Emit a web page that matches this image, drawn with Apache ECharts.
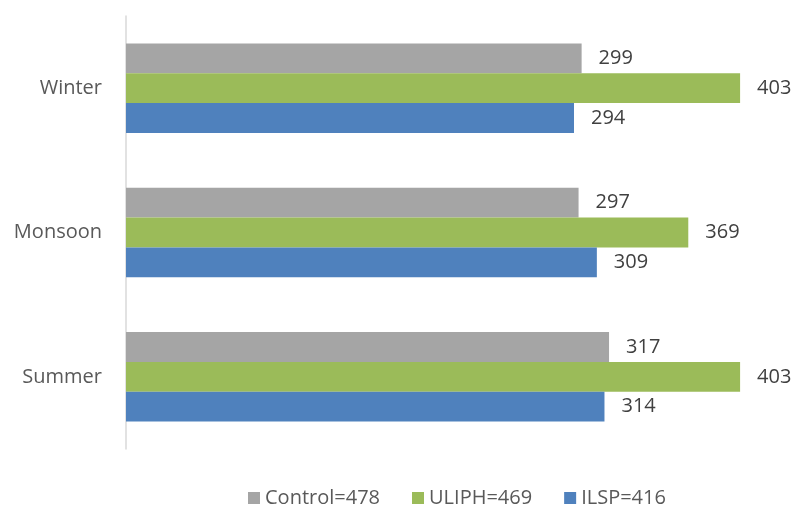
<!DOCTYPE html>
<html>
<head>
<meta charset="utf-8">
<script src="https://cdn.jsdelivr.net/npm/echarts@6/dist/echarts.min.js"></script>
<style>
  html, body { margin: 0; padding: 0; background: #fff; }
  #main { width: 793px; height: 509px; }
</style>
</head>
<body>
<div id="main"></div>
<script>
// seasons, bottom to top
var seasons = ['Summer', 'Monsoon', 'Winter']
var controlVals = [317, 297, 299]
var uliphVals = [403, 369, 403]
var ilspVals = [314, 309, 294]
var seriesNames = ['Control=478', 'ULIPH=469', 'ILSP=416']

var chart = echarts.init(document.getElementById('main'))

var labelStyle = {
  show: true,
  position: 'right',
  distance: 17,
  color: '#404040',
  fontSize: 20,
  fontFamily: 'Open Sans'
}

chart.setOption({
  animation: false,
  textStyle: { fontFamily: 'Open Sans' },
  grid: { left: 126, right: 27, top: 16, bottom: 60, containLabel: false },
  legend: {
    data: seriesNames,
    left: 243,
    top: 483,
    icon: 'rect',
    itemWidth: 12,
    itemHeight: 12,
    itemGap: 32,
    textStyle: { color: '#595959', fontSize: 20 }
  },
  xAxis: {
    type: 'value',
    min: 0,
    max: 420,
    show: false
  },
  yAxis: {
    type: 'category',
    data: seasons,
    axisLine: { show: true, lineStyle: { color: '#d9d9d9', width: 1.5 } },
    axisTick: { show: false },
    axisLabel: { color: '#595959', fontSize: 20, margin: 24 },
    splitLine: { show: false }
  },
  series: [
    // first series sits on top in each group
    {
      name: seriesNames[0], type: 'bar', data: controlVals,
      itemStyle: { color: '#a5a5a5' },
      barGap: '0%', barCategoryGap: '38%',
      label: labelStyle
    },
    {
      name: seriesNames[1], type: 'bar', data: uliphVals,
      itemStyle: { color: '#9bbb59' },
      label: labelStyle
    },
    {
      name: seriesNames[2], type: 'bar', data: ilspVals,
      itemStyle: { color: '#4f81bd' },
      label: labelStyle
    }
  ]
})
</script>
</body>
</html>
